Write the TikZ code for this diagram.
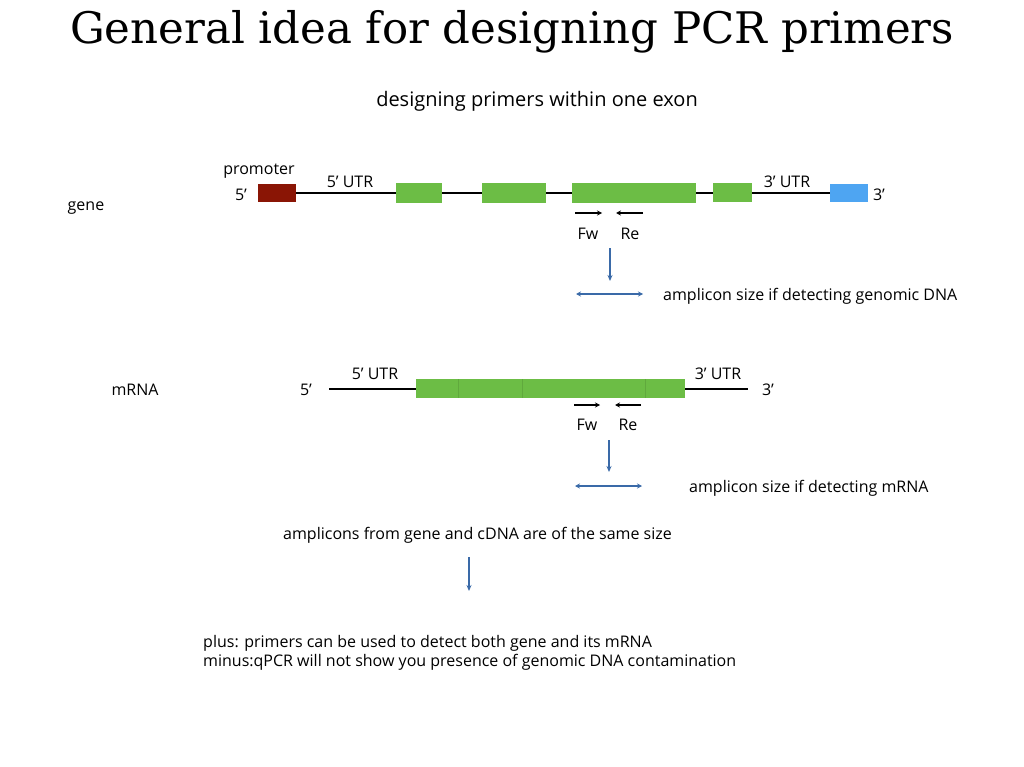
\documentclass[tikz,border=0pt]{standalone}
\usepackage{fontspec}
\setmainfont{Open Sans}
\newfontfamily\titlefont{DejaVu Serif}
\usetikzlibrary{arrows.meta}
\definecolor{exongreen}{HTML}{6CBD45}
\definecolor{promred}{HTML}{8A1505}
\definecolor{utrblue}{HTML}{4EA5F2}
\definecolor{arrblue}{HTML}{3A6AA8}
\tikzset{
  lbl/.style={inner sep=0pt, font=\fontsize{16}{19}\selectfont},
  exon/.style={fill=exongreen, draw=none},
  strand/.style={line width=1.3pt, black},
  primer/.style={line width=1.2pt, -{Stealth[length=5pt,width=5pt]}},
  down/.style={line width=1.3pt, arrblue, -{Stealth[length=6pt,width=5pt]}},
  span/.style={line width=1.3pt, arrblue, {Stealth[length=5pt,width=5pt]}-{Stealth[length=5pt,width=5pt]}},
}
\begin{document}
\begin{tikzpicture}[x=1pt,y=-1pt]
\useasboundingbox (0,0) rectangle (1024,767);
\node[inner sep=0pt, font=\titlefont\fontsize{43.5}{50}\selectfont] (title) at (512,32) {General idea for designing PCR primers};
\node[inner sep=0pt, font=\fontsize{20}{24}\selectfont] (sub) at (537,101) {designing primers within one exon};

% gene
\coordinate (g1) at (296,193);
\coordinate (g2) at (830,193);
\draw[strand] (g1) -- (g2);
\fill[promred] (258,184) rectangle (296,202);
\node[inner sep=0pt] (prom) at (277,193) {};
\fill[exon] (396,183) rectangle (442,203);
\fill[exon] (482,183) rectangle (546,203);
\fill[exon] (572,183) rectangle (696,203);
\fill[exon] (713,183) rectangle (752,202);
\fill[utrblue] (830,184) rectangle (868,202);
\node[lbl] (promlbl) at (259,171) {promoter};
\node[lbl] (g5) at (241,195) {5’};
\node[lbl] (gutr5) at (350,182) {5’ UTR};
\node[lbl] (gutr3) at (787,182) {3’ UTR};
\node[lbl] (g3) at (879,195) {3’};
\node[lbl] (gene) at (86,208) {gene};
\coordinate (gf1) at (575,213); \coordinate (gf2) at (602,213);
\coordinate (gr1) at (643,213); \coordinate (gr2) at (616,213);
\draw[primer] (gf1) -- (gf2);
\draw[primer] (gr1) -- (gr2);
\node[lbl] (gfw) at (588,234) {Fw};
\node[lbl] (gre) at (630,234) {Re};
\coordinate (gd1) at (610,248); \coordinate (gd2) at (610,281);
\draw[down] (gd1) -- (gd2);
\coordinate (ga1) at (576,294); \coordinate (ga2) at (643,294);
\draw[span] (ga1) -- (ga2);
\node[lbl, anchor=west] (gtxt) at (663,296) {amplicon size if detecting genomic DNA};

% mRNA
\coordinate (m1) at (329,389);
\coordinate (m2) at (748,389);
\draw[strand] (m1) -- (m2);
\fill[exon] (416,379) rectangle (685,398);
\draw[exongreen!80!black, line width=0.5pt, opacity=0.5] (458,379) -- (458,398);
\draw[exongreen!80!black, line width=0.5pt, opacity=0.5] (522,379) -- (522,398);
\draw[exongreen!80!black, line width=0.5pt, opacity=0.5] (645,379) -- (645,398);
\node[lbl] (mutr5) at (375,374) {5’ UTR};
\node[lbl] (mutr3) at (718,374) {3’ UTR};
\node[lbl] (m5) at (306,390) {5’};
\node[lbl] (m3) at (768,390) {3’};
\node[lbl] (mrna) at (135,390) {mRNA};
\coordinate (mf1) at (574,405); \coordinate (mf2) at (600,405);
\coordinate (mr1) at (641,405); \coordinate (mr2) at (615,405);
\draw[primer] (mf1) -- (mf2);
\draw[primer] (mr1) -- (mr2);
\node[lbl] (mfw) at (587,425) {Fw};
\node[lbl] (mre) at (628,425) {Re};
\coordinate (md1) at (609,440); \coordinate (md2) at (609,472);
\draw[down] (md1) -- (md2);
\coordinate (ma1) at (575,486); \coordinate (ma2) at (642,486);
\draw[span] (ma1) -- (ma2);
\node[lbl, anchor=west] (mtxt) at (689,488) {amplicon size if detecting mRNA};

\node[lbl, anchor=west] (same) at (283,535) {amplicons from gene and cDNA are of the same size};
\coordinate (sd1) at (469,557); \coordinate (sd2) at (469,591);
\draw[down] (sd1) -- (sd2);
\node[lbl, anchor=west] (plus) at (203,643) {plus: primers can be used to detect both gene and its mRNA};
\node[lbl, anchor=west] (minus) at (203,662) {minus:qPCR will not show you presence of genomic DNA contamination};
\end{tikzpicture}
\end{document}
